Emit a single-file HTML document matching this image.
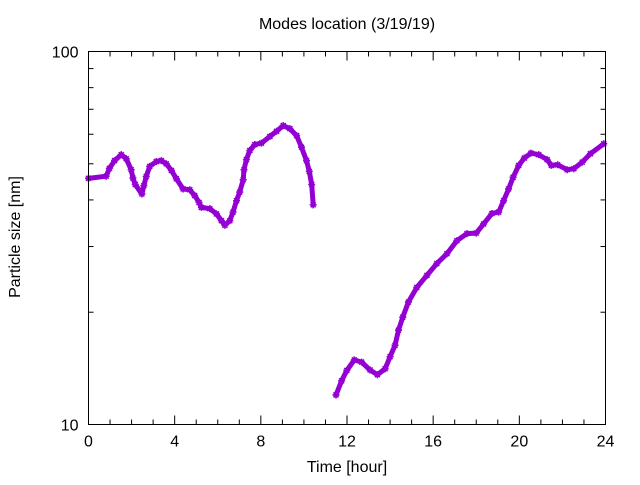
<!DOCTYPE html>
<html><head><meta charset="utf-8"><style>
body{margin:0;background:#fff}
svg text{font-family:"Liberation Sans",sans-serif;font-size:16px;fill:#000}
</style></head><body>
<svg id="chart" width="640" height="480" xmlns="http://www.w3.org/2000/svg">
<rect width="640" height="480" fill="#fff"/>
<text x="347" y="29" text-anchor="middle" font-size="15">Modes location (3/19/19)</text>
<text x="347" y="472" text-anchor="middle">Time [hour]</text>
<text transform="translate(20,237) rotate(-90)" text-anchor="middle">Particle size [nm]</text>
<g id="ticks"></g>
<g id="series"></g>
<rect x="88.5" y="51.5" width="517" height="373" fill="none" stroke="#000" stroke-width="1"/>
</svg>
<script>
const seg1Time=[0,0.82,0.97,1.21,1.52,1.75,1.98,2.06,2.17,2.48,2.57,2.68,2.84,3.15,3.38,3.61,3.85,4.08,4.39,4.70,4.93,5.13,5.24,5.63,5.94,6.17,6.33,6.56,6.71,6.87,7.02,7.18,7.22,7.33,7.49,7.72,8.03,8.42,8.73,9.04,9.35,9.66,9.89,10.12,10.25,10.36,10.43];
const seg1Size=[45.7,46.3,48.6,51,52.9,51.6,48.2,45.8,44.0,41.5,43.7,46.2,49.2,50.7,51,50,48,45.6,42.8,42.6,41.1,39.4,38.2,37.9,36.7,35.2,34.2,35.2,37.1,39.8,42,45.3,48.2,51.3,54.3,56.3,56.8,59.2,61.1,63.3,62.1,59.5,55.4,51,47.7,44.0,38.8];
const seg2Time=[11.49,11.75,11.99,12.34,12.68,13.07,13.41,13.77,14.0,14.23,14.39,14.59,14.85,15.24,15.71,16.17,16.64,17.1,17.57,18.0,18.34,18.73,19.04,19.27,19.50,19.71,19.97,20.23,20.54,20.9,21.29,21.49,21.78,22.22,22.53,22.92,23.3,23.92];
const seg2Size=[12.0,13.1,13.96,14.9,14.7,14.0,13.6,14.1,15.2,16.3,17.9,19.4,21.3,23.3,25.1,27.0,28.7,31.1,32.5,32.6,34.5,36.8,37.1,39.8,42.8,46.0,49.5,51.8,53.4,52.9,51.3,49.5,49.7,48.2,48.5,50.5,53.2,56.6];
const xTicks=[0,4,8,12,16,20,24];
const yMajor=[10,100];
const yMinor=[20,30,40,50,60,70,80,90];

const L=88.5,R=605.5,T=51.5,B=424.5;
const xs=t=>L+(t/24)*(R-L);
const ys=v=>B-(Math.log10(v)-1)*(B-T);
const NS="http://www.w3.org/2000/svg";
function mk(tag,attrs,parent){const e=document.createElementNS(NS,tag);for(const k in attrs)e.setAttribute(k,attrs[k]);parent.appendChild(e);return e;}
const tg=document.getElementById('ticks');
for(let h=0;h<=24;h++){
  const major=h%4===0,len=major?9:5,x=xs(h);
  const a=mk('line',{x1:x,x2:x,y1:B,y2:B-len,stroke:'#000'},tg);
  
  
  const b=mk('line',{x1:x,x2:x,y1:T,y2:T+len,stroke:'#000'},tg);
  
  
}
xTicks.forEach(t=>{
  const e=mk('text',{x:xs(t),y:B+22,'text-anchor':'middle'},tg);e.textContent=t;
  
  
});
yMajor.forEach(v=>{
  const y=ys(v);
  const e=mk('text',{x:L-10,y:y+6,'text-anchor':'end'},tg);e.textContent=v;
  
  
});
yMinor.forEach(v=>{
  const y=ys(v);
  const a=mk('line',{x1:L,x2:L+5,y1:y,y2:y,stroke:'#000'},tg);
  
  
  const b=mk('line',{x1:R,x2:R-5,y1:y,y2:y,stroke:'#000'},tg);
  
  
});
const sg=document.getElementById('series');
function drawSeg(ts,vs,name){
  const pts=ts.map((t,i)=>xs(t).toFixed(1)+','+ys(vs[i]).toFixed(1)).join(' ');
  const pl=mk('polyline',{points:pts,fill:'none',stroke:'#9400d3','stroke-width':5,'stroke-linejoin':'round','stroke-linecap':'round'},sg);
  
  
  ts.forEach((t,i)=>{
    const x=xs(t),y=ys(vs[i]);
    const p=mk('path',{d:`M${x-3.5},${y}h7M${x},${y-3.5}v7M${x-2.5},${y-2.5}l5,5M${x-2.5},${y+2.5}l5,-5`,stroke:'#9400d3','stroke-width':1.6},sg);
    
    
  });
}
drawSeg(seg1Time,seg1Size,'segment-1');
drawSeg(seg2Time,seg2Size,'segment-2');
</script>
</body></html>
